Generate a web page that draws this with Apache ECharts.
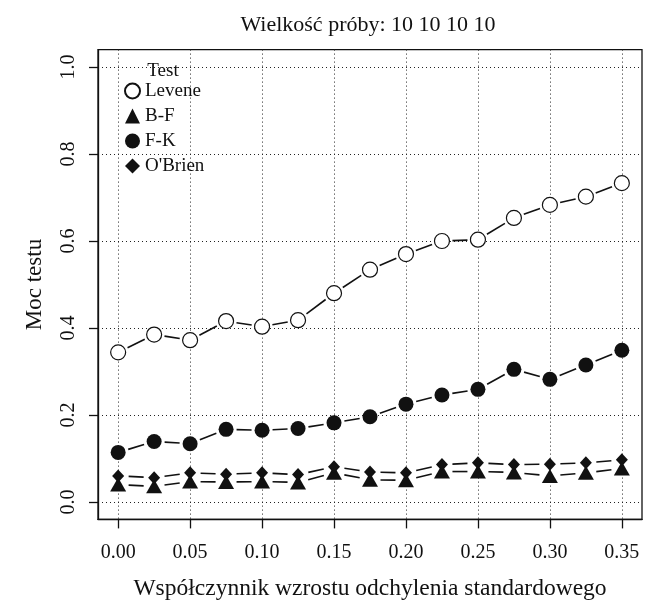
<!DOCTYPE html>
<html>
<head>
<meta charset="utf-8">
<script src="https://cdn.jsdelivr.net/npm/echarts@6/dist/echarts.min.js"></script>
<style>
  html, body { margin: 0; padding: 0; background: #fff; }
  #chart { width: 646px; height: 600px; }
</style>
</head>
<body>
<div id="chart"></div>
<script>
// wspolczynnik wzrostu odchylenia (os X)
const xValues = [0, 0.025, 0.05, 0.075, 0.1, 0.125, 0.15, 0.175, 0.2, 0.225, 0.25, 0.275, 0.3, 0.325, 0.35];

// moc testu dla kazdego testu
const levene = [0.344, 0.385, 0.372, 0.416, 0.403, 0.418, 0.480, 0.534, 0.570, 0.600, 0.603, 0.653, 0.683, 0.702, 0.733];
const bf = [0.040, 0.036, 0.047, 0.046, 0.047, 0.045, 0.067, 0.051, 0.050, 0.070, 0.070, 0.068, 0.060, 0.067, 0.077];
const fk = [0.114, 0.139, 0.134, 0.167, 0.165, 0.169, 0.182, 0.196, 0.225, 0.246, 0.259, 0.305, 0.282, 0.315, 0.349];
const obrien = [0.060, 0.056, 0.067, 0.064, 0.067, 0.063, 0.081, 0.069, 0.067, 0.086, 0.090, 0.086, 0.087, 0.090, 0.097];

const xTicks = [0, 0.05, 0.1, 0.15, 0.2, 0.25, 0.3, 0.35];
const yTicks = [0, 0.2, 0.4, 0.6, 0.8, 1.0];

const FONT = "Liberation Serif";
const INK = "#111";
const GAP = 10.5; // przerwa wokol punktu (jak type="b" w R)

const points = (ys) => xValues.map((x, i) => [x, ys[i]]);
const segments = (ys) => {
  const out = [];
  for (let i = 1; i < xValues.length; i++) {
    out.push([xValues[i - 1], ys[i - 1], xValues[i], ys[i]]);
  }
  return out;
};

function renderSegment(params, api) {
  const p0 = api.coord([api.value(0), api.value(1)]);
  const p1 = api.coord([api.value(2), api.value(3)]);
  const dx = p1[0] - p0[0];
  const dy = p1[1] - p0[1];
  const len = Math.hypot(dx, dy);
  if (len <= 2 * GAP) return;
  const ux = dx / len, uy = dy / len;
  return {
    type: "line",
    shape: {
      x1: p0[0] + ux * GAP, y1: p0[1] + uy * GAP,
      x2: p1[0] - ux * GAP, y2: p1[1] - uy * GAP,
    },
    style: { stroke: INK, lineWidth: 1.6 },
  };
}

const lineSeries = (name, ys) => ({
  name: name + "-linia",
  type: "custom",
  renderItem: renderSegment,
  encode: { x: [0, 2], y: [1, 3] },
  data: segments(ys),
  silent: true,
  z: 2,
});

const markSeries = (name, ys, symbol, size, itemStyle) => ({
  name: name,
  type: "scatter",
  symbol: symbol,
  symbolSize: size,
  itemStyle: Object.assign({ opacity: 1 }, itemStyle),
  data: points(ys),
  z: 3,
});

const chart = echarts.init(document.getElementById("chart"));

chart.setOption({
  animation: false,
  backgroundColor: "#fff",
  title: [
    {
      text: "Wielkość próby: 10 10 10 10",
      left: 363,
      top: 9,
      textAlign: "center",
      textStyle: { fontFamily: FONT, fontSize: 22, fontWeight: "normal", color: INK },
    },
    {
      text: "Test",
      left: 158,
      top: 57,
      textAlign: "center",
      textStyle: { fontFamily: FONT, fontSize: 19, fontWeight: "normal", color: INK },
    },
  ],
  legend: {
    orient: "vertical",
    left: 124,
    top: 81,
    padding: 0,
    itemWidth: 15,
    itemHeight: 15,
    itemGap: 5,
    data: ["Levene", "B-F", "F-K", "O'Brien"],
    textStyle: { fontFamily: FONT, fontSize: 19, color: INK, lineHeight: 20 },
  },
  grid: {
    left: 98,
    right: 4,
    top: 49.6,
    bottom: 80.6,
    outerBoundsMode: "none",
    show: true,
    borderColor: INK,
    borderWidth: 1.3,
  },
  xAxis: {
    type: "value",
    min: -0.014,
    max: 0.364,
    name: "Współczynnik wzrostu odchylenia standardowego",
    nameLocation: "middle",
    nameGap: 57,
    nameTextStyle: { fontFamily: FONT, fontSize: 23.5, color: INK },
    axisLine: { show: true, onZero: false, lineStyle: { color: INK, width: 1.3 } },
    axisTick: {
      show: true,
      length: 9,
      customValues: xTicks,
      lineStyle: { color: INK, width: 1.3 },
    },
    axisLabel: {
      customValues: xTicks,
      margin: 23,
      fontFamily: FONT,
      fontSize: 20,
      color: INK,
      formatter: (v) => v.toFixed(2),
    },
    splitLine: { show: true, lineStyle: { color: "#222", width: 1, type: [1, 3] } },
  },
  yAxis: {
    type: "value",
    min: -0.04,
    max: 1.04,
    name: "Moc testu",
    nameLocation: "middle",
    nameGap: 52,
    nameTextStyle: { fontFamily: FONT, fontSize: 23, color: INK },
    axisLine: { show: true, onZero: false, lineStyle: { color: INK, width: 1.3 } },
    axisTick: {
      show: true,
      length: 9,
      customValues: yTicks,
      lineStyle: { color: INK, width: 1.3 },
    },
    axisLabel: {
      customValues: yTicks,
      rotate: 90,
      margin: 19,
      fontFamily: FONT,
      fontSize: 20,
      color: INK,
      formatter: (v) => v.toFixed(1),
    },
    splitLine: { show: true, lineStyle: { color: "#222", width: 1, type: [1, 3] } },
  },
  series: [
    lineSeries("Levene", levene),
    lineSeries("B-F", bf),
    lineSeries("F-K", fk),
    lineSeries("O'Brien", obrien),
    markSeries("Levene", levene, "circle", 15, { color: "#fff", borderColor: INK, borderWidth: 1.2 }),
    markSeries("B-F", bf, "triangle", [16, 14], { color: INK }),
    markSeries("F-K", fk, "circle", 15, { color: INK }),
    markSeries("O'Brien", obrien, "diamond", [12, 13], { color: INK }),
  ],
});
</script>
</body>
</html>
